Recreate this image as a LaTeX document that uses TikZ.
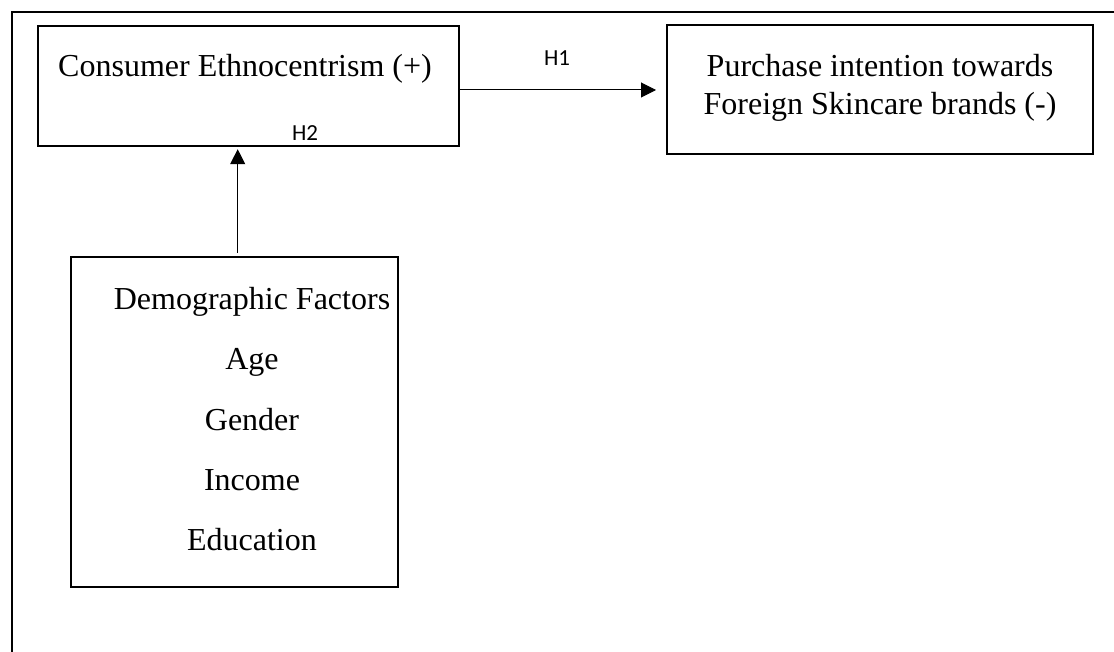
\documentclass[tikz,border=0pt]{standalone}
\usepackage{fontspec}
\setmainfont{Liberation Serif}
\newfontfamily\hyplabel{Carlito}
\usetikzlibrary{arrows.meta}

\begin{document}
\begin{tikzpicture}[x=1pt,y=-1pt,
  box/.style={draw,line width=2pt,inner sep=0pt},
  txt/.style={anchor=base,inner sep=0pt,font=\fontsize{32}{38}\selectfont},
  hyp/.style={anchor=base,inner sep=0pt,font=\hyplabel\fontsize{23}{27}\selectfont},
  link/.style={line width=1pt,-{Triangle[length=15pt,width=15pt]}}]
  \useasboundingbox (0,0) rectangle (1114,652);

  % page frame (only its top and left edges fall inside the page)
  \draw[line width=2pt] (1114,12.5) -- (11.5,12.5) -- (11.5,652);

  % boxes
  \node[box,minimum width=421pt,minimum height=120pt] (ce) at (248.5,85.7) {};
  \node[box,minimum width=426pt,minimum height=129pt] (pi) at (880,89.5) {};
  \node[box,minimum width=327pt,minimum height=330pt] (df) at (234.4,422) {};

  % box texts
  \node[txt] (ceT) at (245,77) {Consumer Ethnocentrism (+)};
  \node[txt] (piT1) at (880,77) {Purchase intention towards};
  \node[txt] (piT2) at (880,115) {Foreign Skincare brands (-)};
  \node[txt] (dfT0) at (252,310) {Demographic Factors};
  \node[txt] (dfT1) at (252,370) {Age};
  \node[txt] (dfT2) at (252,430) {Gender};
  \node[txt] (dfT3) at (252,490) {Income};
  \node[txt] (dfT4) at (252,550) {Education};

  % connectors
  \coordinate (h1row) at (0,90);
  \coordinate (h2col) at (237.7,0);
  \draw[link,shorten >=10pt] (ce.east |- h1row) -- (pi.west |- h1row);
  \draw[link,shorten >=2.5pt,shorten <=3pt] (df.north -| h2col) -- (ce.south -| h2col);

  % hypothesis labels
  \node[hyp] (h1) at (557,66) {H1};
  \node[hyp] (h2) at (305,140.5) {H2};
\end{tikzpicture}
\end{document}
